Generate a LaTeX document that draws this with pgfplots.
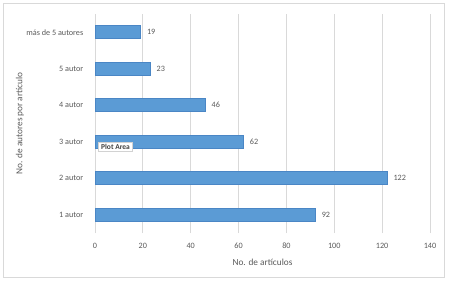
\documentclass[border=0pt]{standalone}
\usepackage{pgfplots}
\pgfplotsset{compat=1.18}
\usepackage{fontspec}
\setmainfont{Carlito}
\definecolor{barfill}{HTML}{5B9BD5}
\definecolor{bardraw}{HTML}{4A86C5}
\definecolor{gridc}{HTML}{D9D9D9}
\definecolor{txt}{HTML}{595959}
\begin{document}
\begin{tikzpicture}[x=1bp,y=1bp]
\path[use as bounding box] (0,0) rectangle (450,281);
\draw[gridc, line width=0.8bp] (3,4) rectangle (444,278);
\begin{axis}[
  at={(95bp,48bp)}, anchor=south west,
  scale only axis, width=335bp, height=219bp,
  xmin=0, xmax=140, ymin=-0.5, ymax=5.5,
  xbar, bar width=13bp,
  xtick={0,20,...,140},
  ytick={0,1,2,3,4,5},
  yticklabels={1 autor,2 autor,3 autor,4 autor,5 autor,más de 5 autores},
  axis line style={draw=none},
  tick style={draw=none},
  xmajorgrids,
  grid style={gridc, line width=0.8bp},
  ticklabel style={font=\fontsize{8.2}{9}\selectfont, text=txt},
  xticklabel style={yshift=-6.5bp},
  yticklabel style={xshift=-4bp},
  /pgf/number format/assume math mode=true,
  xlabel={No. de artículos},
  ylabel={No. de autores por artículo},
  label style={font=\fontsize{9.3}{11}\selectfont, text=txt},
  xlabel style={at={(axis description cs:0.5,-0.132)}, anchor=center},
  ylabel style={at={(axis description cs:-0.224,0.5)}, anchor=center},
  nodes near coords,
  nodes near coords style={font=\fontsize{8.2}{9}\selectfont, text=txt, anchor=west, xshift=3bp},
]
\addplot[fill=barfill, draw=bardraw, line width=0.6bp] coordinates {
(92,0) (122,1) (62,2) (46,3) (23,4) (19,5)
};
\end{axis}
\node[draw=gray!35, fill=white, inner xsep=2.5bp, inner ysep=1.8bp, font=\fontsize{7.5}{8}\selectfont\bfseries, text=black!75] at (115.5,134) {Plot Area};
\end{tikzpicture}
\end{document}
